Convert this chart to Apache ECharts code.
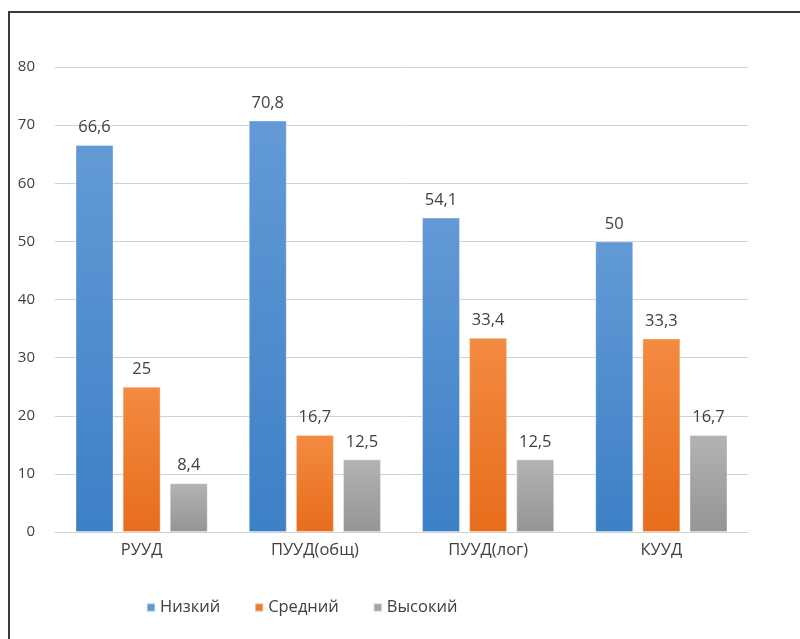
<!DOCTYPE html>
<html>
<head>
<meta charset="utf-8">
<script src="https://cdn.jsdelivr.net/npm/echarts@6/dist/echarts.min.js"></script>
<style>
  html, body { margin: 0; padding: 0; background: #ffffff; }
  #chart { width: 800px; height: 639px; }
</style>
</head>
<body>
<div id="chart"></div>
<script>
// Levels of learning-skill formation by group of skills, %
const categories = ['РУУД', 'ПУУД(общ)', 'ПУУД(лог)', 'КУУД'];
const seriesNames = ['Низкий', 'Средний', 'Высокий'];
const lowValues = [66.6, 70.8, 54.1, 50];
const midValues = [25, 16.7, 33.4, 33.3];
const highValues = [8.4, 12.5, 12.5, 16.7];
const yTicks = [0, 10, 20, 30, 40, 50, 60, 70, 80];

const font = '"Open Sans", "Noto Sans", sans-serif';

function grad(top, bottom) {
  return new echarts.graphic.LinearGradient(0, 0, 0, 1, [
    { offset: 0, color: top },
    { offset: 1, color: bottom }
  ]);
}

const palette = [
  { fill: grad('#639ad6', '#3c80c6'), legend: '#5b9bd5' },
  { fill: grad('#f38b40', '#e76d1c'), legend: '#ed7d31' },
  { fill: grad('#b3b3b3', '#959595'), legend: '#a5a5a5' }
];
const valueSets = [lowValues, midValues, highValues];

const chart = echarts.init(document.getElementById('chart'), null, { renderer: 'canvas' });

chart.setOption({
  backgroundColor: '#ffffff',
  animation: false,
  graphic: [{
    type: 'rect',
    shape: { x: 9, y: 12, width: 900, height: 700 },
    style: { fill: 'none', stroke: '#3a3a3a', lineWidth: 2 },
    silent: true
  }],
  grid: { left: 55, right: 52, top: 67, bottom: 107 },
  legend: {
    left: 141,
    top: 594,
    itemWidth: 8,
    itemHeight: 8,
    itemGap: 34,
    icon: 'rect',
    textStyle: { color: '#404040', fontSize: 16.5, fontFamily: font },
    data: seriesNames.map((n, i) => ({ name: n, itemStyle: { color: palette[i].legend } }))
  },
  xAxis: {
    type: 'category',
    data: categories,
    axisLine: { show: true, lineStyle: { color: '#d0d0d0', width: 1 } },
    axisTick: { show: false },
    axisLabel: { color: '#404040', fontSize: 16.5, fontFamily: font, margin: 10 }
  },
  yAxis: {
    type: 'value',
    min: yTicks[0],
    max: yTicks[yTicks.length - 1],
    interval: 10,
    axisLine: { show: false },
    axisTick: { show: false },
    splitLine: { lineStyle: { color: '#c9d3dc', width: 1 } },
    axisLabel: { color: '#404040', fontSize: 15, fontFamily: font, margin: 20 }
  },
  series: seriesNames.map((name, i) => ({
    name: name,
    type: 'bar',
    data: valueSets[i],
    barWidth: 38,
    barGap: '24%',
    itemStyle: { color: palette[i].fill, borderColor: 'rgba(255,255,255,0.35)', borderWidth: 1 },
    label: {
      show: true,
      position: 'top',
      distance: 9,
      color: '#404040',
      fontSize: 16.5,
      fontFamily: font,
      formatter: p => String(p.value).replace('.', ',')
    }
  }))
});
</script>
</body>
</html>
